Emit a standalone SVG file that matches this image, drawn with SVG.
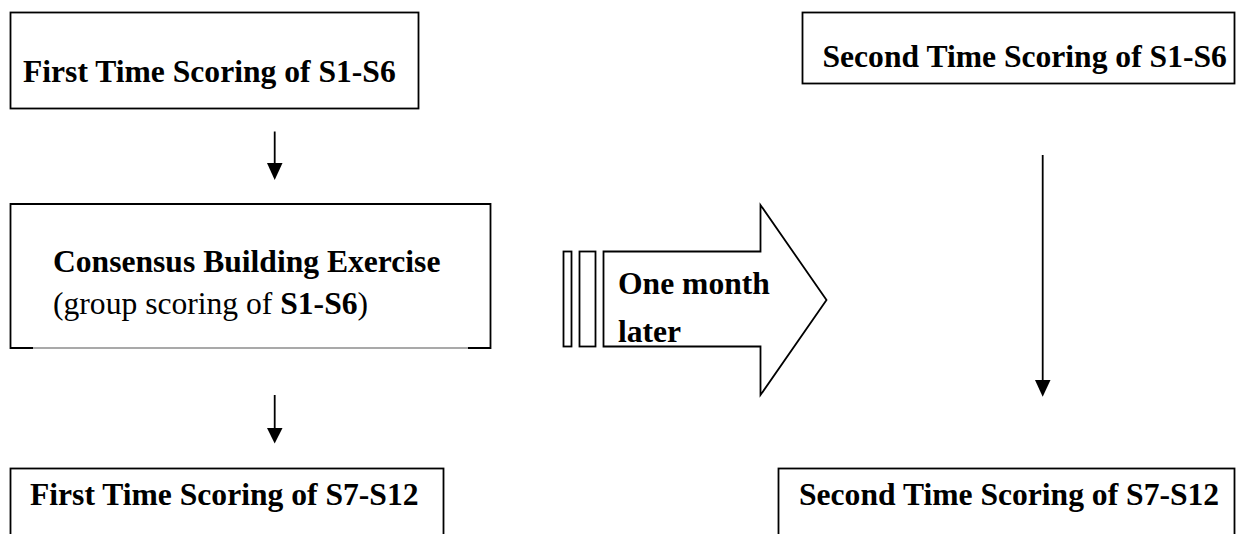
<svg xmlns="http://www.w3.org/2000/svg" width="1245" height="534" viewBox="0 0 1245 534">
<style>
.box{fill:#fff;stroke:#000;stroke-width:1.8}
.t{font-family:"Liberation Serif","Times New Roman",serif;font-size:31.6px;fill:#000}
.b{font-weight:bold}
.ln{stroke:#000;stroke-width:1.8;fill:none}
</style>
<defs>
<marker id="ah" markerUnits="userSpaceOnUse" markerWidth="16" markerHeight="18" refX="8" refY="17" orient="auto-start-reverse" viewBox="0 0 16 18">
<path d="M0,0 L16,0 L8,18 Z" fill="#000" transform="rotate(0)"/>
</marker>
</defs>
<rect width="1245" height="534" fill="#fff"/>
<g id="n1"><rect class="box" x="10.5" y="12.5" width="408" height="96"/>
<text class="t b" x="23" y="81.5">First Time Scoring of S1-S6</text></g>
<g id="n2"><path class="ln" d="M33,348 L10.5,348 L10.5,204 L490.5,204 L490.5,348 L468,348"/>
<line x1="33" y1="348" x2="468" y2="348" stroke="#555" stroke-width="1.2"/>
<text class="t" x="53" y="272"><tspan class="b">Consensus Building Exercise</tspan></text>
<text class="t" x="53" y="314">(group scoring of <tspan class="b">S1-S6</tspan>)</text></g>
<g id="n3"><rect class="box" x="10.5" y="468.5" width="433" height="80"/>
<text class="t b" x="30" y="505">First Time Scoring of S7-S12</text></g>
<g id="n4"><rect class="box" x="802.5" y="12.5" width="432" height="71"/>
<text class="t b" x="822.5" y="66.5">Second Time Scoring of S1-S6</text></g>
<g id="n5"><rect class="box" x="778.5" y="468.5" width="456" height="80"/>
<text class="t b" x="799" y="505">Second Time Scoring of S7-S12</text></g>
<g id="n6">
<rect class="box" x="563.5" y="251.5" width="8" height="95" stroke-width="1.5"/>
<rect class="box" x="579.5" y="251.5" width="16" height="95" stroke-width="1.5"/>
<path class="box" stroke-width="1.5" d="M603.5,251.5 L760.5,251.5 L760.5,205 L826.5,300 L760.5,395 L760.5,346.5 L603.5,346.5 Z"/>
<text class="t b" x="618" y="294">One month</text>
<text class="t b" x="618" y="341.5">later</text>
</g>
<g id="connectors">
<line class="ln" x1="274.7" y1="131.5" x2="274.7" y2="165"/>
<path d="M267,163 L282.5,163 L274.7,180 Z"/>
<line class="ln" x1="274.7" y1="395" x2="274.7" y2="430"/>
<path d="M267,428 L282.5,428 L274.7,443.5 Z"/>
<line class="ln" x1="1042.7" y1="155" x2="1042.7" y2="382"/>
<path d="M1035,380 L1050.5,380 L1042.7,396.7 Z"/>
</g>
</svg>
